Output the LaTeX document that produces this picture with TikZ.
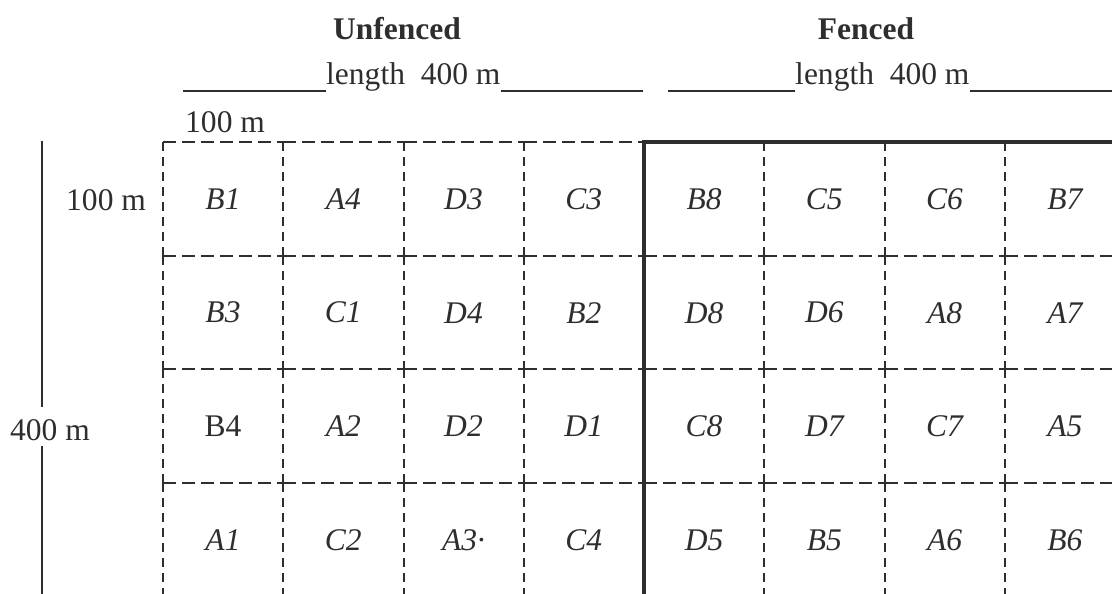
\documentclass[tikz,border=0pt]{standalone}
\usepackage{fontspec}
\setmainfont{Liberation Serif}
\usetikzlibrary{positioning}
\definecolor{ink}{HTML}{2E2E2E}
\begin{document}
\begin{tikzpicture}[x=0.3mm, y=-0.3mm, color=ink, font=\fontsize{26.9}{32}\selectfont,
  title/.style = {anchor=base, inner sep=0pt, font=\fontsize{26.9}{32}\selectfont\bfseries},
  dimlabel/.style = {anchor=base west, inner sep=0pt},
  plotlabel/.style = {inner sep=0pt, font=\fontsize{26.9}{32}\selectfont\itshape},
  dimline/.style = {line width=0.45mm},
  hdash/.style = {line width=0.6mm, dash pattern=on 3.9mm off 1.8mm},
  vdash/.style = {line width=0.6mm, dash pattern=on 2.7mm off 1.8mm},
  fence/.style = {line width=1.3mm}
]
\useasboundingbox (0,0) rectangle (1112,593);
\clip (0,0) rectangle (1112,593);
\node[title] (unfenced_title) at (397,39) {Unfenced};
\node[title] (fenced_title) at (866,39) {Fenced};
\node[dimlabel] (length_unfenced) at (326,84) {length\ \ 400 m};
\node[dimlabel] (length_fenced) at (795,84) {length\ \ 400 m};
\node[dimlabel] (width_top) at (185,132) {100 m};
\node[dimlabel] (width_side) at (66,210) {100 m};
\node[dimlabel] (side_label) at (10,440) {400 m};
\coordinate (lu_start) at (183,91);
\coordinate (lu_end) at (643,91);
\coordinate (lf_start) at (668,91);
\coordinate (lf_end) at (1112,91);
\coordinate (side_top) at (42,141);
\coordinate (side_bottom) at (42,600);
\coordinate (fence_bottom) at (644,600);
\coordinate (fence_right) at (1125,142);
\draw[dimline] (lu_start) -- (lu_start -| length_unfenced.west);
\draw[dimline] (length_unfenced.east |- lu_end) -- (lu_end);
\draw[dimline] (lf_start) -- (lf_start -| length_fenced.west);
\draw[dimline] (length_fenced.east |- lf_end) -- (lf_end);
\draw[line width=0.6mm] (side_top) -- ([yshift=3.6mm]side_top |- side_label.north);
\draw[line width=0.6mm] ([yshift=-1.8mm]side_bottom |- side_label.base) -- (side_bottom);
\foreach \j in {0,...,4}
  \foreach \i in {0,...,7}
    \draw[hdash] ({163+120.25*\i},{142+113.7*\j}) -- ({163+120.25*(\i+1)},{142+113.7*\j});
\foreach \i in {0,...,8}
  \foreach \j in {0,...,3}
    \draw[vdash] ({163+120.25*\i},{142+113.7*\j}) -- ({163+120.25*\i},{142+113.7*(\j+1)});
\draw[fence] (fence_bottom) |- (fence_right);
\foreach \row [count=\r from 0] in {{B1,A4,D3,C3,B8,C5,C6,B7},{B3,C1,D4,B2,D8,D6,A8,A7},{{\upshape B4},A2,D2,D1,C8,D7,C7,A5},{A1,C2,A3·,C4,D5,B5,A6,B6}}
  \foreach \lab [count=\c from 0] in \row
    \node[plotlabel] (plot_\r_\c) at ({223+120.25*\c},{199+113.7*\r}) {\lab};
\end{tikzpicture}
\end{document}
